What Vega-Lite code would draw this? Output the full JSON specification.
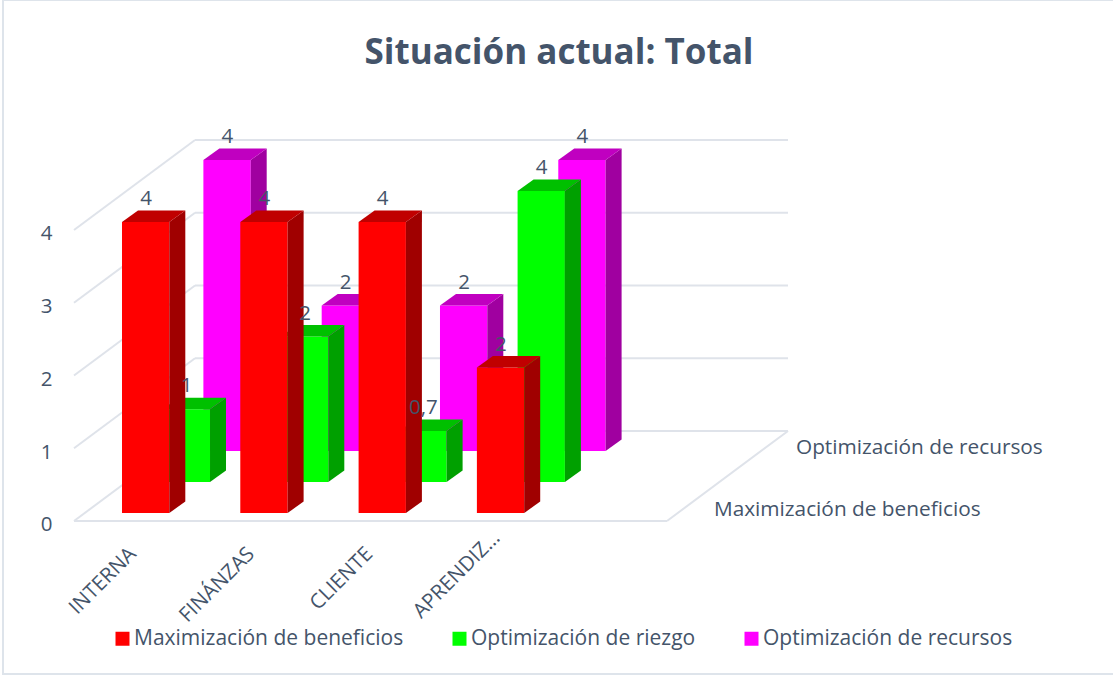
{
"$schema":"https://vega.github.io/schema/vega-lite/v6.json",
"width":1112,"height":674,"autosize":"none","padding":{"left":3,"top":0,"right":0,"bottom":1},
"background":"white",
"title":{"text":"Situación actual: Total","anchor":"middle","offset":-71,"fontSize":35,"fontWeight":"bold","font":"Open Sans","color":"#44546A"},
"config":{"view":{"stroke":"#DEE4EB","strokeWidth":2},"font":"Open Sans"},
"data":{"values":[
{"category":"INTERNA","series":"Maximización de beneficios","value":4},
{"category":"INTERNA","series":"Optimización de riezgo","value":1},
{"category":"INTERNA","series":"Optimización de recursos","value":4},
{"category":"FINÁNZAS","series":"Maximización de beneficios","value":4},
{"category":"FINÁNZAS","series":"Optimización de riezgo","value":2},
{"category":"FINÁNZAS","series":"Optimización de recursos","value":2},
{"category":"CLIENTE","series":"Maximización de beneficios","value":4},
{"category":"CLIENTE","series":"Optimización de riezgo","value":0.7},
{"category":"CLIENTE","series":"Optimización de recursos","value":2},
{"category":"APRENDIZ…","series":"Maximización de beneficios","value":2},
{"category":"APRENDIZ…","series":"Optimización de riezgo","value":4},
{"category":"APRENDIZ…","series":"Optimización de recursos","value":4}
]},
"transform":[
{"calculate":"indexof(['INTERNA','FINÁNZAS','CLIENTE','APRENDIZ…'],datum.category)","as":"i"},
{"calculate":"indexof(['Maximización de beneficios','Optimización de riezgo','Optimización de recursos'],datum.series)","as":"s"},
{"calculate":"datum.i-0.2029+datum.s*0.344","as":"xl"},
{"calculate":"datum.xl+0.4","as":"xr"},
{"calculate":"0.11+datum.s*0.4261","as":"yb"},
{"calculate":"datum.yb+datum.value","as":"yt"},
{"calculate":"[0,1,2,3,4,5,6,7]","as":"k"},
{"flatten":["k"]},
{"calculate":"datum.k<2?'front':datum.k<4?'side':'top'","as":"face"},
{"calculate":"[datum.xl,datum.xr,datum.xr,datum.xr+0.1352,datum.xl,datum.xl+0.1352,datum.xr,datum.xr+0.1352][datum.k]","as":"px"},
{"calculate":"[datum.yt,datum.yt,datum.yt,datum.yt+0.158,datum.yt,datum.yt+0.158,datum.yt+0.158,datum.yt+0.158][datum.k]","as":"py"},
{"calculate":"[datum.yb,datum.yb,datum.yb,datum.yb+0.158,datum.yt,datum.yt,datum.yt,datum.yt+0.158][datum.k]","as":"py2"}
],
"encoding":{
"x":{"field":"px","type":"quantitative","scale":{"domain":[-1.2088,8.1911],"nice":false,"zero":false},"axis":null},
"y":{"field":"py","type":"quantitative","scale":{"domain":[-2.1031,7.1615],"nice":false,"zero":false},
"axis":{"title":null,"orient":"left","offset":-49,"values":[0,1,2,3,4],"labelPadding":0,"labelFontSize":20.5,"labelColor":"#44546A","labelOffset":4,"labelFlush":false,"labelOverlap":false,"labelBound":false,"domain":false,"ticks":false,"grid":false}}
},
"layer":[
{"data":{"values":[
{"edge":"back","level":0},{"edge":"back","level":1},{"edge":"back","level":2},{"edge":"back","level":3},{"edge":"back","level":4},
{"edge":"side","level":0},{"edge":"side","level":1},{"edge":"side","level":2},{"edge":"side","level":3},{"edge":"side","level":4},
{"edge":"front","level":0},{"edge":"right","level":0}]},
"transform":[
{"calculate":"datum.edge=='back'?0.4144:datum.edge=='right'?4.404:-0.6086","as":"px"},
{"calculate":"datum.edge=='back'?datum.level+1.237:datum.level","as":"py"},
{"calculate":"datum.edge=='front'?4.404:datum.edge=='right'?5.427:datum.edge=='back'?5.427:0.4144","as":"px2"},
{"calculate":"datum.edge=='front'?0:datum.level+1.237","as":"py2"}],
"mark":{"type":"rule","color":"#DFE3EA","strokeWidth":2},
"encoding":{"x2":{"field":"px2"},"y2":{"field":"py2"}}},

{"transform":[{"filter":"datum.s==2&&datum.face=='front'"}],"mark":{"type":"area","opacity":1},"encoding":{"y2":{"field":"py2"},"detail":{"field":"category"},
"color":{"field":"series","type":"nominal","scale":{"domain":["Maximización de beneficios","Optimización de riezgo","Optimización de recursos"],"range":["#FF0000","#00FF00","#FF00FF"]},
"legend":{"title":null,"orient":"none","legendX":109,"legendY":628,"direction":"horizontal","columns":3,"columnPadding":45,"symbolType":"square","symbolSize":196,"symbolStrokeWidth":0,"labelFontSize":21,"labelLimit":0,"labelColor":"#44546A","labelOffset":1,"padding":0,"symbolOpacity":1}}}},
{"transform":[{"filter":"datum.s==2&&datum.face=='side'"}],"mark":{"type":"area","opacity":1,"color":"#A000A0"},"encoding":{"y2":{"field":"py2"},"detail":{"field":"category"}}},
{"transform":[{"filter":"datum.s==2&&datum.face=='top'"}],"mark":{"type":"area","opacity":1,"color":"#C000C0"},"encoding":{"y2":{"field":"py2"},"detail":{"field":"category"}}},

{"transform":[{"filter":"datum.s==1&&datum.face=='front'"}],"mark":{"type":"area","opacity":1},"encoding":{"y2":{"field":"py2"},"detail":{"field":"category"},"color":{"field":"series","type":"nominal"}}},
{"transform":[{"filter":"datum.s==1&&datum.face=='side'"}],"mark":{"type":"area","opacity":1,"color":"#00A000"},"encoding":{"y2":{"field":"py2"},"detail":{"field":"category"}}},
{"transform":[{"filter":"datum.s==1&&datum.face=='top'"}],"mark":{"type":"area","opacity":1,"color":"#00C000"},"encoding":{"y2":{"field":"py2"},"detail":{"field":"category"}}},

{"transform":[{"filter":"datum.s==0&&datum.face=='front'"}],"mark":{"type":"area","opacity":1},"encoding":{"y2":{"field":"py2"},"detail":{"field":"category"},"color":{"field":"series","type":"nominal"}}},
{"transform":[{"filter":"datum.s==0&&datum.face=='side'"}],"mark":{"type":"area","opacity":1,"color":"#A00000"},"encoding":{"y2":{"field":"py2"},"detail":{"field":"category"}}},
{"transform":[{"filter":"datum.s==0&&datum.face=='top'"}],"mark":{"type":"area","opacity":1,"color":"#C00000"},"encoding":{"y2":{"field":"py2"},"detail":{"field":"category"}}},

{"transform":[{"filter":"datum.k==0"},
{"calculate":"datum.xl+0.2029","as":"px"},{"calculate":"datum.yt+0.315","as":"py"},
{"calculate":"replace(toString(datum.value),'.',',')","as":"label"}],
"mark":{"type":"text","fontSize":20.5,"color":"#44546A","align":"center","baseline":"middle"},
"encoding":{"text":{"field":"label"}}},

{"data":{"values":[{"category":"INTERNA"},{"category":"FINÁNZAS"},{"category":"CLIENTE"},{"category":"APRENDIZ…"}]},
"transform":[
{"calculate":"indexof(['INTERNA','FINÁNZAS','CLIENTE','APRENDIZ…'],datum.category)","as":"i"},
{"calculate":"datum.i-0.11+(datum.i==3?0.076:0)","as":"px"},
{"calculate":"datum.i==3?-0.192:-0.412","as":"py"}],
"mark":{"type":"text","fontSize":20.5,"color":"#44546A","align":"right","baseline":"middle","angle":315},
"encoding":{"text":{"field":"category"}}},

{"data":{"values":[{"series":"Maximización de beneficios","s":0},{"series":"Optimización de recursos","s":2}]},
"transform":[{"calculate":"4.801+datum.s*0.3466","as":"px"},{"calculate":"0.157+datum.s*0.4261","as":"py"}],
"mark":{"type":"text","fontSize":20.8,"color":"#44546A","align":"left","baseline":"middle"},
"encoding":{"text":{"field":"series"}}}
]
}
